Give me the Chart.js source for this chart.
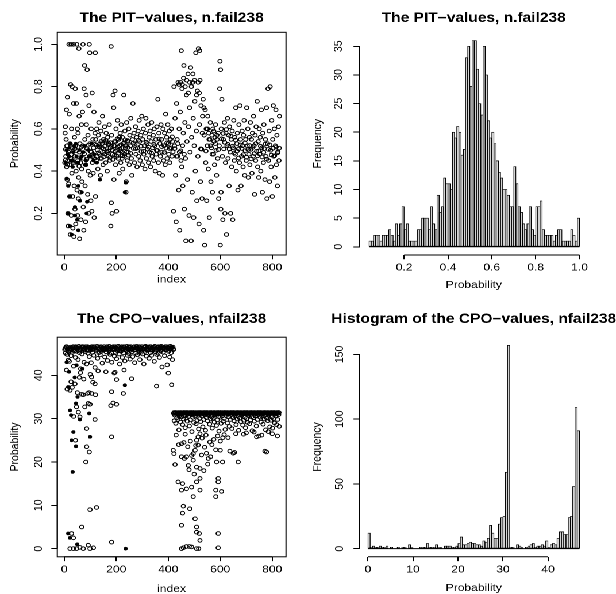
<!DOCTYPE html>
<html>
<head>
<meta charset="utf-8">
<script src="https://cdn.jsdelivr.net/npm/chart.js@4.4.1/dist/chart.umd.min.js"></script>
<style>
  html, body { margin: 0; padding: 0; background: #fff; overflow: hidden; }
  /* the four panels are laid out narrow and stretched sideways */
  #sheet { position: absolute; left: 0; top: 0; width: 536px; height: 594px; transform: scaleX(1.14925); transform-origin: 0 0; }
  #sheet canvas { position: absolute; }
</style>
</head>
<body>
<div id="sheet">
  <canvas id="pitIndex" width="268" height="297" style="left:0;top:0"></canvas>
  <canvas id="pitHist" width="268" height="297" style="left:268px;top:0"></canvas>
  <canvas id="cpoIndex" width="268" height="297" style="left:0;top:297px"></canvas>
  <canvas id="cpoHist" width="268" height="297" style="left:268px;top:297px"></canvas>
</div>
<script>
// PIT values by observation index (open circles)
const pitPoints = [
  [2,0.44],[3,0.58],[4,0.61],[5,0.503],[6,0.47],[7,0.55],[8,0.69],[9,0.42],[10,0.52],[11,0.36],[12,0.75],[13,0.45],[14,0.2],[15,0.14],[16,0.49],[17,0.34],[18,1.0],[19,0.67],[20,0.43],[21,0.28],[22,0.53],[23,0.1],[24,0.81],[25,0.46],[26,1.0],[27,0.19],[28,0.6],[29,0.39],[30,0.8],[31,0.51],[32,0.28],[33,0.13],[34,0.44],[35,1.0],[36,0.72],[37,0.09],[38,0.33],[39,0.56],[40,0.47],[41,0.22],[42,0.79],[43,0.52],[44,0.15],[45,0.4],[46,0.72],[47,0.497],[48,1.0],[49,0.31],[50,0.6],[51,0.19],[52,0.45],[53,0.58],[54,0.27],[55,0.37],[56,0.98],[57,0.66],[58,0.49],[59,0.08],[60,0.53],[62,0.3],[63,0.44],[64,0.17],[66,0.62],[67,0.41],[68,0.35],[70,0.68],[71,0.52],[72,1.0],[73,0.23],[74,0.46],[75,0.12],[76,0.79],[78,0.9],[79,0.55],[80,0.33],[82,0.16],[83,0.43],[84,0.76],[85,0.62],[87,0.506],[88,0.88],[90,0.29],[91,0.57],[92,0.4],[94,0.2],[95,0.71],[96,1.0],[97,0.47],[98,0.96],[99,0.53],[100,0.38],[102,0.26],[103,0.6],[104,0.49],[106,0.21],[107,0.77],[108,0.44],[110,0.55],[111,0.39],[112,0.51],[114,0.68],[115,0.18],[116,0.46],[118,0.58],[119,0.96],[120,0.28],
  [5,0.453],[12,0.432],[19,0.497],[27,0.478],[33,0.447],[41,0.506],[50,0.438],[57,0.423],[65,0.514],[77,0.482],[86,0.455],[93,0.523],[101,0.493],[109,0.468],[117,0.527],
  [121,0.55],[123,0.45],[125,0.6],[127,0.5],[129,0.41],[131,0.57],[133,0.63],[135,0.48],[137,0.53],[139,0.38],[141,0.59],[143,0.46],[145,0.51],[147,0.66],[149,0.43],[151,0.55],[153,0.49],[155,0.61],[157,0.52],[159,0.44],[161,0.58],[163,0.495],[165,0.4],[167,0.56],[169,0.47],[171,0.53],[173,0.62],[175,0.45],[177,0.51],[179,0.14],[180,0.99],[181,0.25],[182,0.57],[184,0.2],[186,0.48],[188,0.76],[190,0.7],[191,0.36],[193,0.54],[195,0.78],[197,0.43],[199,0.6],[201,0.21],[203,0.502],[205,0.64],[207,0.46],[209,0.55],[211,0.39],[213,0.52],[215,0.58],[217,0.44],[219,0.62],[221,0.49],[223,0.56],[225,0.41],[227,0.53],[229,0.76],[231,0.47],[233,0.59],[235,0.51],[237,0.3],[238,0.35],[240,0.63],[242,0.45],[244,0.54],[246,0.49],[248,0.6],[250,0.43],[252,0.57],[254,0.52],[256,0.65],[258,0.46],[260,0.38],[262,0.55],[264,0.72],[266,0.507],[268,0.58],[270,0.44],[272,0.53],[274,0.61],[276,0.48],[278,0.56],[280,0.42],[282,0.51],[284,0.59],[286,0.47],[288,0.64],[290,0.54],[292,0.45],[294,0.57],[296,0.493],[298,0.66],[300,0.43],[302,0.55],[304,0.6],[306,0.48],[308,0.52],[310,0.41],[312,0.58],[314,0.65],[316,0.46],[318,0.53],[320,0.504],[322,0.62],[324,0.44],[326,0.56],[328,0.49],[330,0.59],[332,0.42],[334,0.54],[336,0.63],[338,0.47],[340,0.51],[342,0.57],[344,0.45],[346,0.6],[348,0.52],[350,0.4],[352,0.55],[354,0.48],[356,0.61],[358,0.498],[360,0.74],[362,0.44],[364,0.58],[366,0.39],[368,0.53],[370,0.47],[372,0.62],[374,0.55],[376,0.49],[378,0.38],[380,0.6],[382,0.45],[384,0.52],[386,0.58],[388,0.43],[390,0.67],[392,0.509],[394,0.56],[396,0.46],[398,0.62],[400,0.53],[402,0.48],[404,0.59],[406,0.44],[408,0.55],[410,0.51],[412,0.6],[414,0.47],[416,0.54],[418,0.491],
  [124,0.523],[132,0.487],[142,0.541],[152,0.468],[162,0.534],[172,0.496],[183,0.517],[194,0.476],[204,0.553],[214,0.503],[224,0.472],[234,0.548],[245,0.512],[255,0.484],[265,0.532],[275,0.506],[285,0.546],[295,0.518],[305,0.494],[315,0.537],[325,0.513],[335,0.486],[345,0.527],[355,0.498],[365,0.552],[375,0.516],[385,0.488],[395,0.534],[405,0.507],[415,0.562],
  [126,0.47],[134,0.515],[138,0.46],[146,0.53],[150,0.505],[156,0.48],[160,0.545],[166,0.49],[170,0.525],[176,0.465],[178,0.535],[185,0.5],[187,0.455],[192,0.52],[196,0.495],[198,0.54],[202,0.47],[206,0.515],[210,0.485],[212,0.56],[216,0.495],[218,0.525],[222,0.46],[226,0.51],[230,0.535],[232,0.48],[236,0.52],[239,0.49],[243,0.545],[247,0.475],
  [420,0.21],[422,0.8],[424,0.52],[426,0.65],[428,0.38],[430,0.16],[432,0.72],[434,0.55],[436,0.47],[438,0.82],[440,0.31],[442,0.6],[444,0.12],[446,0.68],[448,0.496],[450,0.97],[452,0.42],[454,0.81],[456,0.33],[458,0.58],[460,0.9],[462,0.22],[464,0.63],[466,0.46],[468,0.07],[470,0.76],[472,0.54],[474,0.36],[476,0.86],[478,0.61],[480,0.19],[482,0.7],[484,0.49],[486,0.89],[488,0.07],[490,0.56],[492,0.3],[494,0.82],[496,0.65],[498,0.18],[500,0.52],[502,0.73],[504,0.4],[506,0.96],[508,0.59],[510,0.26],[512,0.78],[514,0.47],[516,0.98],[518,0.15],[520,0.62],[522,0.83],[524,0.35],[526,0.71],[528,0.504],[530,0.27],[532,0.66],[534,0.74],[536,0.12],[538,0.57],[540,0.05],[542,0.69],[544,0.44],[546,0.6],[548,0.26],[550,0.52],[552,0.66],[554,0.41],[556,0.58],[558,0.18],[560,0.55],[562,0.63],[564,0.35],[566,0.51],[568,0.57],[570,0.3],[572,0.6],[574,0.48],[576,0.54],[578,0.43],[580,0.56],[582,0.62],[584,0.498],[586,0.38],[588,0.55],[590,0.46],[592,0.58],[594,0.27],[596,0.52],[598,0.79],[599,0.92],[600,0.05],[601,0.88],[602,0.22],
  [441,0.81],[447,0.82],[453,0.79],[459,0.84],[465,0.8],[471,0.83],[477,0.77],[483,0.82],[489,0.8],[495,0.86],[501,0.83],[509,0.76],[515,0.82],[519,0.77],[521,0.97],[525,0.505],[531,0.58],[537,0.7],[545,0.495],[551,0.6],[557,0.55],[563,0.52],[569,0.48],[575,0.59],[581,0.53],[587,0.57],[593,0.502],[425,0.507],[431,0.47],[437,0.53],[443,0.49],[449,0.45],[455,0.52],[461,0.48],
  [603,0.3],[604,0.6],[606,0.74],[608,0.47],[610,0.17],[612,0.55],[614,0.505],[616,0.63],[618,0.2],[620,0.44],[622,0.58],[624,0.1],[626,0.52],[628,0.65],[630,0.46],[632,0.57],[634,0.33],[636,0.61],[638,0.49],[640,0.2],[642,0.55],[644,0.42],[646,0.59],[648,0.17],[650,0.51],[652,0.64],[654,0.45],[656,0.56],[658,0.48],[660,0.7],[662,0.4],[664,0.53],[666,0.58],[668,0.31],[670,0.505],[672,0.62],[674,0.44],[676,0.71],[678,0.55],[680,0.33],[682,0.47],[684,0.59],[686,0.52],[688,0.42],[690,0.57],[692,0.64],[694,0.38],[696,0.497],[698,0.55],[700,0.45],[702,0.7],[704,0.52],[706,0.6],[708,0.37],[710,0.48],[712,0.56],[714,0.43],[716,0.63],[718,0.503],[720,0.55],[722,0.39],[724,0.58],[726,0.47],[728,0.66],[730,0.52],[732,0.29],[734,0.57],[736,0.45],[738,0.61],[740,0.494],[742,0.73],[744,0.42],[746,0.54],[748,0.37],[750,0.6],[752,0.48],[754,0.56],[756,0.4],[758,0.69],[760,0.51],[762,0.3],[764,0.58],[766,0.44],[768,0.62],[770,0.506],[772,0.36],[774,0.55],[776,0.47],[778,0.7],[780,0.27],[782,0.53],[784,0.79],[786,0.45],[788,0.59],[790,0.35],[792,0.8],[794,0.499],[796,0.42],[798,0.64],[800,0.28],[802,0.55],[804,0.71],[806,0.47],[808,0.6],[810,0.37],[812,0.52],[814,0.69],[816,0.43],[818,0.57],[820,0.33],[822,0.492],[824,0.61],[826,0.45],[828,0.66],
  [605,0.553],[611,0.578],[617,0.536],[623,0.597],[629,0.527],[635,0.504],[641,0.566],[647,0.518],[653,0.486],[659,0.547],[665,0.495],[671,0.462],[677,0.524],[683,0.507],[689,0.478],[695,0.533],[701,0.466],[707,0.502],[713,0.521],[719,0.458],[725,0.512],[731,0.483],[737,0.531],[743,0.472],[749,0.496],[755,0.518],[761,0.467],[767,0.489],[773,0.528],[779,0.457],[785,0.503],[791,0.524],[797,0.476],[803,0.508],[809,0.473],[815,0.514],[821,0.487],[827,0.509]
];
// PIT values drawn as solid dots
const pitSolid = [
  [9,0.365],[15,0.33],[22,0.28],[15,0.2],[22,0.14],[28,0.1],[41,0.19],[41,0.23],[60,0.26],[54,0.33],[67,0.3],[86,0.2],[88,0.255],[137,0.36],[233,0.3],[237,0.345],[32,0.42],[47,0.47],[9,0.5],[24,0.53],[73,0.49],[112,0.45],[54,0.12],[50,0.17],[5,0.44],[18,0.47],[30,0.45],[38,0.52],[62,0.46],[80,0.43],[100,0.47],
  [12,0.48],[20,0.51],[26,0.45],[35,0.49],[44,0.53],[52,0.44],[58,0.5],[66,0.47],[77,0.52],[84,0.45],[92,0.5],[105,0.53],[115,0.48],[125,0.44],[130,0.52]
];
const indexTicks = [0, 200, 400, 600, 800];
const pitTicks = [0.2, 0.4, 0.6, 0.8, 1.0];

// PIT histogram: counts in 0.01-wide bins starting at 0.04
const pitBreakStart = 0.04;
const pitBinWidth = 0.01;
const pitCounts = [
  1,1,2,2,2,1,2,2,2,3,2,1,4,2,4,7,3,4,1,1,1,1,3,3,5,5,5,3,7,4,3,9,6,7,
  12,11,11,10,20,19,21,20,16,17,33,35,28,36,36,31,25,23,35,30,
  22,19,20,18,15,13,12,10,10,9,7,7,14,11,7,6,4,3,4,7,
  3,2,7,7,8,3,2,2,2,2,1,2,3,3,1,1,1,1,3,2,1,5
];
const pitHistTicks = [0.2, 0.4, 0.6, 0.8, 1.0];
const pitFreqTicks = [0, 5, 10, 15, 20, 25, 30, 35];

// CPO values by observation index (open circles)
const cpoPoints = [
  [3,46.2],[5,45.1],[8,46.6],[10,44.8],[12,46],[14,45.6],[17,46.4],[19,43.2],[21,45.8],[24,46.5],[26,44.5],[29,46.1],[31,45.3],[34,46.6],[36,42.1],[38,45.9],[41,46.3],[43,44.1],[46,46.5],[48,45.5],[51,46.2],[53,43.6],[56,46.7],[58,45.2],[61,46],[63,41.5],[66,46.4],[68,44.9],[71,46.6],[73,45.7],[76,43],[78,46.2],[81,45.4],[83,46.6],[86,42.6],[88,46],[91,45.1],[93,46.5],[96,44.3],[98,46.3],[101,45.8],[103,42.9],[106,46.6],[108,45.3],[111,46.1],[113,44.6],[116,46.5],[118,41.8],[121,46.2],[123,45.6],[126,46.7],[128,43.9],[131,46],[133,45.2],[136,46.4],[138,44.7],[141,46.6],[143,45.5],[146,42.8],[148,46.2],[151,45.8],[153,46.6],[156,44.2],[158,46.1],[161,45.4],[163,46.5],[166,43.4],[168,46.3],[171,45.7],[173,46.7],[176,44.8],[178,46],[181,45.1],[183,43],[186,46.5],[188,45.9],[191,46.2],[193,44.4],[196,46.6],[198,45.3],[201,43.8],[203,46.1],[206,45.6],[208,46.7],[211,44.9],[213,42.6],[216,46.3],[218,45.5],[221,46.6],[223,44.1],[226,46],[228,45.2],[231,46.5],[233,43.3],[236,46.2],[238,45.7],[241,46.7],[243,44.6],[246,46.1],[248,45],[251,46.4],[253,43.7],[256,46.6],[258,45.4],[261,46],[263,44.3],[266,46.5],[268,45.8],[271,42.9],[273,46.3],[276,45.1],[278,46.7],[281,44.7],[283,46.1],[286,45.6],[288,46.5],[291,43.6],[293,46.2],[296,45.3],[298,46.6],[301,44.9],[303,46],[306,42.6],[308,46.4],[311,45.5],[313,46.7],[316,44.4],[318,46.1],[321,45.7],[323,46.5],[326,43.9],[328,46.3],[331,45.2],[333,46.6],[336,44.6],[338,46],[341,45.8],[343,46.4],[346,43.2],[348,46.7],[351,45.4],[353,46.2],[356,44.8],[358,46.5],[361,45.1],[363,46.6],[366,44.1],[368,46.3],[371,45.6],[373,46.7],[376,41.9],[378,46],[381,45.3],[383,46.5],[386,44.5],[388,46.2],[391,45.8],[393,46.6],[396,42.4],[398,46.4],[401,45.5],[403,46.1],[406,44.2],[408,46.7],[411,45.2],[413,46.3],[416,43.6],[418,46.5],[420,45.9],
  [2,45.9],[7,46.5],[13,46.3],[18,45.4],[23,46.1],[28,45.8],[33,46.4],[39,45.6],[44,46.6],[49,46],[54,45.7],[59,46.4],[64,45.9],[69,46.6],[74,46.1],[79,45.8],[84,46.3],[89,46.6],[94,45.7],[99,46.1],[104,46.4],[109,45.9],[114,46.6],[119,46.2],[124,45.9],[129,46.4],[134,46.1],[139,45.8],[144,46.5],[149,46],[154,46.3],[159,45.9],[164,46.6],[169,46.1],[174,45.8],[179,46.4],[184,46],[189,46.6],[194,45.9],[199,46.3],[204,46.6],[209,46],[214,45.8],[219,46.4],[224,46.1],[229,46.6],[234,45.9],[239,46.3],[244,46],[249,46.6],[254,45.8],[259,46.3],[264,46.1],[269,46.6],[274,45.9],[279,46.4],[284,46],[289,46.6],[294,45.8],[299,46.3],[304,46.1],[309,46.6],[314,45.9],[319,46.4],[324,46],[329,46.6],[334,45.8],[339,46.3],[344,46.1],[349,46.6],[354,45.9],[359,46.4],[364,46],[369,46.6],[374,45.8],[379,46.3],[384,46.1],[389,46.6],[394,45.9],[399,46.3],[404,46.6],[409,46],[414,46.4],[419,46.1],
  [11,36.8],[22,36.5],[26,38.5],[41,38],[30,37.2],[47,32.7],[54,31.5],[60,30.4],[67,35.6],[79,32.7],[92,33.5],[99,33.3],[86,27.7],[90,35.8],[105,35.8],[73,35.5],[118,38],[105,39.6],[100,40.2],[86,23.5],[83,20],[96,22.3],[118,29.8],[43,25],[67,5],[99,9],[124,9.5],[28,3.5],[35,2.5],[22,0],[35,0],[47,0],[60,0.3],[73,0],[92,0.8],[99,0],[112,0.2],[182,25.8],[179,33],[188,33.6],[201,33.3],[182,36.2],[192,40.5],[201,39],[182,1.5],[227,35.8],[259,39.2],[355,37.5],[413,37.8],[62,40.6],[75,39.1],[110,38.4],[130,41],[160,40.8],[195,40.7],[230,41.2],[400,40.5],[50,36],[58,39.5],[36,30.5],[120,35.5],[95,36],[15,43.5],[8,41.2],
  [421,31.2],[423,29.5],[425,30.8],[427,31.4],[429,28.9],[431,31],[433,30.2],[435,31.3],[437,29.8],[439,31.1],[441,27.4],[443,30.6],[445,31.4],[447,29.2],[449,31],[451,30.4],[453,31.3],[455,28.6],[457,31.1],[459,29.9],[461,31.4],[463,30.7],[465,27.9],[467,31.2],[469,30.1],[471,31.4],[473,29.4],[475,31],[477,30.5],[479,31.3],[481,28.3],[483,31.1],[485,29.7],[487,31.4],[489,30.9],[491,27],[493,31.2],[495,30.3],[497,31.4],[499,29.1],[501,31],[503,30.6],[505,31.3],[507,28.8],[509,31.1],[511,29.6],[513,31.4],[515,30.8],[517,27.6],[519,31.2],[521,30],[523,31.4],[525,29.3],[527,31],[529,30.6],[531,31.3],[533,28.1],[535,31.1],[537,29.8],[539,31.4],[541,30.9],[543,27.3],[545,31.2],[547,30.2],[549,31.4],[551,29.5],[553,31],[555,30.7],[557,31.3],[559,28.7],[561,31.1],[563,29.9],[565,31.4],[567,30.4],[569,27.8],[571,31.2],[573,30.1],[575,31.4],[577,29.2],[579,31],[581,30.8],[583,31.3],[585,28.4],[587,31.1],[589,29.7],[591,31.4],[593,30.5],[595,27.1],[597,31.2],[599,30.3],[601,31.4],[603,28.9],[605,31],[607,30.6],[609,31.3],[611,29.4],[613,31.1],[615,30],[617,31.4],[619,27.5],[621,31.2],[623,30.7],[625,31.4],[627,29],[629,31],[631,30.4],[633,31.3],[635,28.2],[637,31.1],[639,29.8],[641,31.4],[643,30.9],[645,27.7],[647,31.2],[649,30.2],[651,31.4],[653,29.5],[655,31],[657,30.6],[659,31.3],[661,28.6],[663,31.1],[665,29.9],[667,31.4],[669,30.5],[671,27.3],[673,31.2],[675,30.1],[677,31.4],[679,29.3],[681,31],[683,30.8],[685,31.3],[687,28.5],[689,31.1],[691,29.6],[693,31.4],[695,30.3],[697,27.9],[699,31.2],[701,30],[703,31.4],[705,29.1],[707,31],[709,30.7],[711,31.3],[713,28.8],[715,31.1],[717,29.7],[719,31.4],[721,30.4],[723,27.2],[725,31.2],[727,30.2],[729,31.4],[731,29.4],[733,31],[735,30.6],[737,31.3],[739,28.3],[741,31.1],[743,29.8],[745,31.4],[747,30.9],[749,26],[751,31.2],[753,30.3],[755,31.4],[757,29.2],[759,31],[761,30.5],[763,31.3],[765,28.7],[767,31.1],[769,29.9],[771,31.4],[773,30.8],[775,27.4],[777,31.2],[779,30.1],[781,31.4],[783,29.5],[785,31],[787,30.7],[789,31.3],[791,28.1],[793,31.1],[795,29.6],[797,31.4],[799,30.4],[801,27.8],[803,31.2],[805,30],[807,31.4],[809,29],[811,31],[813,30.6],[815,31.3],[817,28.6],[819,31.1],[821,29.8],[823,31.4],[825,30.9],[827,28.2],
  [422,31.4],[426,31.3],[430,31.4],[434,31.2],[438,31.4],[442,31.3],[446,31.1],[450,31.4],[454,31.2],[458,31.4],[462,31.3],[466,31.4],[470,31.1],[474,31.4],[478,31.3],[482,31.4],[486,31.2],[490,31.4],[494,31.3],[498,31.4],[502,31.2],[506,31.4],[510,31.3],[514,31.1],[518,31.4],[522,31.3],[526,31.4],[530,31.2],[534,31.4],[538,31.3],[542,31.4],[546,31.1],[550,31.4],[554,31.3],[558,31.4],[562,31.2],[566,31.4],[570,31.3],[574,31.1],[578,31.4],[582,31.2],[586,31.4],[590,31.3],[594,31.4],[598,31.1],[602,31.4],[606,31.3],[610,31.4],[614,31.2],[618,31.4],[622,31.3],[626,31.1],[630,31.4],[634,31.2],[638,31.4],[642,31.3],[646,31.4],[650,31.1],[654,31.4],[658,31.3],[662,31.4],[666,31.2],[670,31.4],[674,31.3],[678,31.1],[682,31.4],[686,31.2],[690,31.4],[694,31.3],[698,31.4],[702,31.1],[706,31.4],[710,31.3],[714,31.4],[718,31.2],[722,31.4],[726,31.3],[730,31.1],[734,31.4],[738,31.2],[742,31.4],[746,31.3],[750,31.4],[754,31.1],[758,31.4],[762,31.3],[766,31.4],[770,31.2],[774,31.4],[778,31.3],[782,31.1],[786,31.4],[790,31.2],[794,31.4],[798,31.3],[802,31.4],[806,31.1],[810,31.4],[814,31.3],[818,31.4],[822,31.2],[826,31.4],
  [419,22.7],[422,21.9],[426,19.4],[438,15.4],[455,15],[451,13.5],[455,8.2],[451,5.4],[458,9.8],[470,13.8],[490,14.2],[483,9.2],[496,12],[509,15.4],[522,16.2],[503,6.9],[509,5],[509,3.8],[522,1.9],[522,13.5],[451,0],[458,0.2],[470,0.5],[481,0.5],[490,0.4],[509,0],[517,0],[519,3.5],[583,12],[583,13.5],[592,16.2],[592,15.4],[592,3.5],[592,0.2],[583,22.8],[605,13.2],[609,20],[637,22.5],[650,22],[669,20],[451,24.2],[451,21.2],[470,21.2],[477,19.2],[490,21.5],[496,20.4],[503,22.7],[506,23.8],[509,25],[515,25.8],[522,26.5],[496,21.9],[509,18.8],[522,18.5],[537,18],[547,22],[554,20.8],[563,21.2],[586,20],[772,22.5],[778,22.3],[460,24.5],[465,26.4],[475,23.5],[485,24.8],[530,25.5],[540,23.4],[545,26.2],[560,24.6],[575,25.2],[590,26],[600,24.8],[615,26.3],[630,25.6],[660,26.5],[700,26.7],[740,25.8],[760,26.2],[800,26.5],[820,26],[430,26.2],[440,24],[462,20.8],[480,18.2],[500,17.2],[515,23.9],[528,21.6],[552,19.5],[568,24],[600,22.7],[610,25.6],[655,22.2],[690,26.4],[730,26.9],[785,27]
];
// CPO values drawn as solid dots
const cpoSolid = [
  [15,37.3],[22,31.9],[26,30.8],[35,26.9],[28,25],[45,23.6],[32,17.7],[60,29.8],[15,3.5],[22,2.5],[50,1],[45,33.5],[51,35],[99,25.8],[96,31.2],[236,0],[233,37.7],[9,43],[47,42.3],[40,39.5],[70,41.5],[18,40.8]
];
const cpoTicks = [0, 10, 20, 30, 40];

// CPO histogram: counts in 0.5-wide bins starting at 0
const cpoBreakStart = 0;
const cpoBinWidth = 0.5;
const cpoCounts = [
  12,1,2,1,1,2,1,1,2,0,1,0,0,1,0,1,1,0,3,1,0,0,0,1,1,1,4,1,1,1,3,1,1,0,2,2,2,1,1,2,4,9,3,3,4,5,4,4,3,3,2,
  6,5,8,18,12,8,8,19,24,25,59,157,
  1,1,0,3,2,1,0,1,2,3,4,1,2,2,3,2,6,1,3,4,3,
  8,13,13,11,11,24,25,48,109,91
];
const cpoHistTicks = [0, 10, 20, 30, 40];
const cpoFreqTicks = [0, 50, 100, 150];

const FONT = "'Liberation Sans', Arial, Helvetica, sans-serif";

// box, axis lines (first to last tick only), histogram base and the bold main title
const rFrame = {
  id: 'rFrame',
  afterDraw(chart, args, opts) {
    const { ctx, chartArea: a, scales } = chart;
    const xs = scales.x.ticks, ys = scales.y.ticks;
    ctx.save();
    ctx.strokeStyle = '#000';
    ctx.lineWidth = 1;
    if (opts.box) ctx.strokeRect(a.left, a.top, a.right - a.left, a.bottom - a.top);
    ctx.beginPath();
    ctx.moveTo(scales.x.getPixelForValue(xs[0].value), a.bottom);
    ctx.lineTo(scales.x.getPixelForValue(xs[xs.length - 1].value), a.bottom);
    ctx.moveTo(a.left, scales.y.getPixelForValue(ys[0].value));
    ctx.lineTo(a.left, scales.y.getPixelForValue(ys[ys.length - 1].value));
    if (opts.base) {
      const y0 = scales.y.getPixelForValue(0);
      ctx.moveTo(scales.x.getPixelForValue(opts.base[0]), y0);
      ctx.lineTo(scales.x.getPixelForValue(opts.base[1]), y0);
    }
    ctx.stroke();
    ctx.font = 'bold 13.5px ' + FONT;
    ctx.fillStyle = '#000';
    ctx.textAlign = 'center';
    ctx.textBaseline = 'middle';
    ctx.fillText(opts.title, (a.left + a.right) / 2, opts.titleY);
    ctx.restore();
  }
};

function axis(o) {
  return {
    type: 'linear',
    min: o.min,
    max: o.max,
    offset: false,
    afterBuildTicks: s => { s.ticks = o.ticks.map(v => ({ value: v })); },
    afterFit: s => {
      if (o.width != null) s.width = o.width;
      if (o.height != null) s.height = o.height;
    },
    grid: { display: true, offset: false, drawOnChartArea: false, drawTicks: true, tickLength: o.tick, tickColor: '#000', color: '#000', lineWidth: 1 },
    border: { display: false },
    ticks: {
      color: '#000',
      font: { family: FONT, size: 10.5 },
      padding: o.pad,
      autoSkip: false,
      minRotation: o.rot || 0,
      maxRotation: o.rot || 0,
      crossAlign: o.rot ? 'center' : 'near',
      callback: o.fmt || (v => String(v))
    },
    title: { display: true, text: o.title, color: '#000', font: { family: FONT, size: 10.5 }, padding: o.titlePad }
  };
}

function baseOptions(p) {
  return {
    responsive: false,
    animation: false,
    devicePixelRatio: 2,
    layout: { padding: { left: 0, right: p.right, top: p.top, bottom: 0 } },
    plugins: {
      legend: { display: false },
      tooltip: { enabled: false },
      rFrame: { title: p.title, titleY: p.titleY, box: p.box, base: p.base }
    },
    scales: { x: p.x, y: p.y }
  };
}

const toXY = arr => arr.map(([x, y]) => ({ x, y }));
const oneDecimal = v => v.toFixed(1);
const openDots = { pointRadius: 1.8, pointBorderWidth: 0.9, borderColor: '#000', backgroundColor: 'rgba(0,0,0,0)' };
const solidDots = { pointRadius: 1.5, pointBorderWidth: 0.6, borderColor: '#000', backgroundColor: '#000' };
const histBars = { backgroundColor: '#d4d4d4', borderColor: '#000', borderWidth: 0.7, borderSkipped: false, barPercentage: 1, categoryPercentage: 1 };

// top left: PIT against index
new Chart(document.getElementById('pitIndex'), {
  type: 'scatter',
  data: { datasets: [
    { data: toXY(pitPoints), ...openDots },
    { data: toXY(pitSolid), ...solidDots }
  ] },
  options: baseOptions({
    right: 19.15, top: 32.3, title: 'The PIT\u2212values, n.fail238', titleY: 18.3, box: true,
    x: axis({ min: -27, max: 853, ticks: indexTicks, height: 42, tick: 4.3, pad: 1.9, title: 'index', titlePad: { top: 0, bottom: 11.2 } }),
    y: axis({ min: 0.003, max: 1.057, ticks: pitTicks, width: 49.85, tick: 5.2, pad: 3.85, rot: 90, fmt: oneDecimal, title: 'Probability', titlePad: { top: 6.75, bottom: 0 } })
  }),
  plugins: [rFrame]
});

// top right: PIT histogram
new Chart(document.getElementById('pitHist'), {
  type: 'bar',
  data: { datasets: [{
    data: pitCounts.map((c, i) => ({ x: pitBreakStart + (i + 0.5) * pitBinWidth, y: c })),
    ...histBars
  }] },
  options: baseOptions({
    right: 24.4, top: 32.3, title: 'The PIT\u2212values, n.fail238', titleY: 18.3, box: false,
    base: [pitBreakStart, pitBreakStart + pitCounts.length * pitBinWidth],
    x: axis({ min: -0.0036, max: 1.0386, ticks: pitHistTicks, height: 42, tick: 4.3, pad: 1.9, fmt: oneDecimal, title: 'Probability', titlePad: { top: 0, bottom: 5.7 } }),
    y: axis({ min: -1.44, max: 37.44, ticks: pitFreqTicks, width: 44.8, tick: 5.2, pad: 6.95, rot: 90, title: 'Frequency', titlePad: { top: 2.5, bottom: 0 } })
  }),
  plugins: [rFrame]
});

// bottom left: CPO against index
new Chart(document.getElementById('cpoIndex'), {
  type: 'scatter',
  data: { datasets: [
    { data: toXY(cpoPoints), ...openDots },
    { data: toXY(cpoSolid), ...solidDots }
  ] },
  options: baseOptions({
    right: 19.15, top: 40.2, title: 'The CPO\u2212values, nfail238', titleY: 22.5, box: true,
    x: axis({ min: -27, max: 853, ticks: indexTicks, height: 37.2, tick: 4.3, pad: 2.1, title: 'index', titlePad: { top: 0, bottom: -1.3 } }),
    y: axis({ min: -1.88, max: 48.78, ticks: cpoTicks, width: 49.85, tick: 5.2, pad: 5.3, rot: 90, title: 'Probability', titlePad: { top: 6.75, bottom: 0 } })
  }),
  plugins: [rFrame]
});

// bottom right: CPO histogram
new Chart(document.getElementById('cpoHist'), {
  type: 'bar',
  data: { datasets: [{
    data: cpoCounts.map((c, i) => ({ x: cpoBreakStart + (i + 0.5) * cpoBinWidth, y: c })),
    ...histBars
  }] },
  options: baseOptions({
    right: 24.4, top: 40.2, title: 'Histogram of the CPO\u2212values, nfail238', titleY: 22.5, box: false,
    base: [cpoBreakStart, cpoBreakStart + cpoCounts.length * cpoBinWidth],
    x: axis({ min: -1.88, max: 48.88, ticks: cpoHistTicks, height: 37.2, tick: 4.3, pad: 2.1, title: 'Probability', titlePad: { top: 0, bottom: -0.3 } }),
    y: axis({ min: -6.28, max: 163.28, ticks: cpoFreqTicks, width: 44.8, tick: 5.2, pad: 3.25, rot: 90, title: 'Frequency', titlePad: { top: 2, bottom: 0 } })
  }),
  plugins: [rFrame]
});
</script>
</body>
</html>
